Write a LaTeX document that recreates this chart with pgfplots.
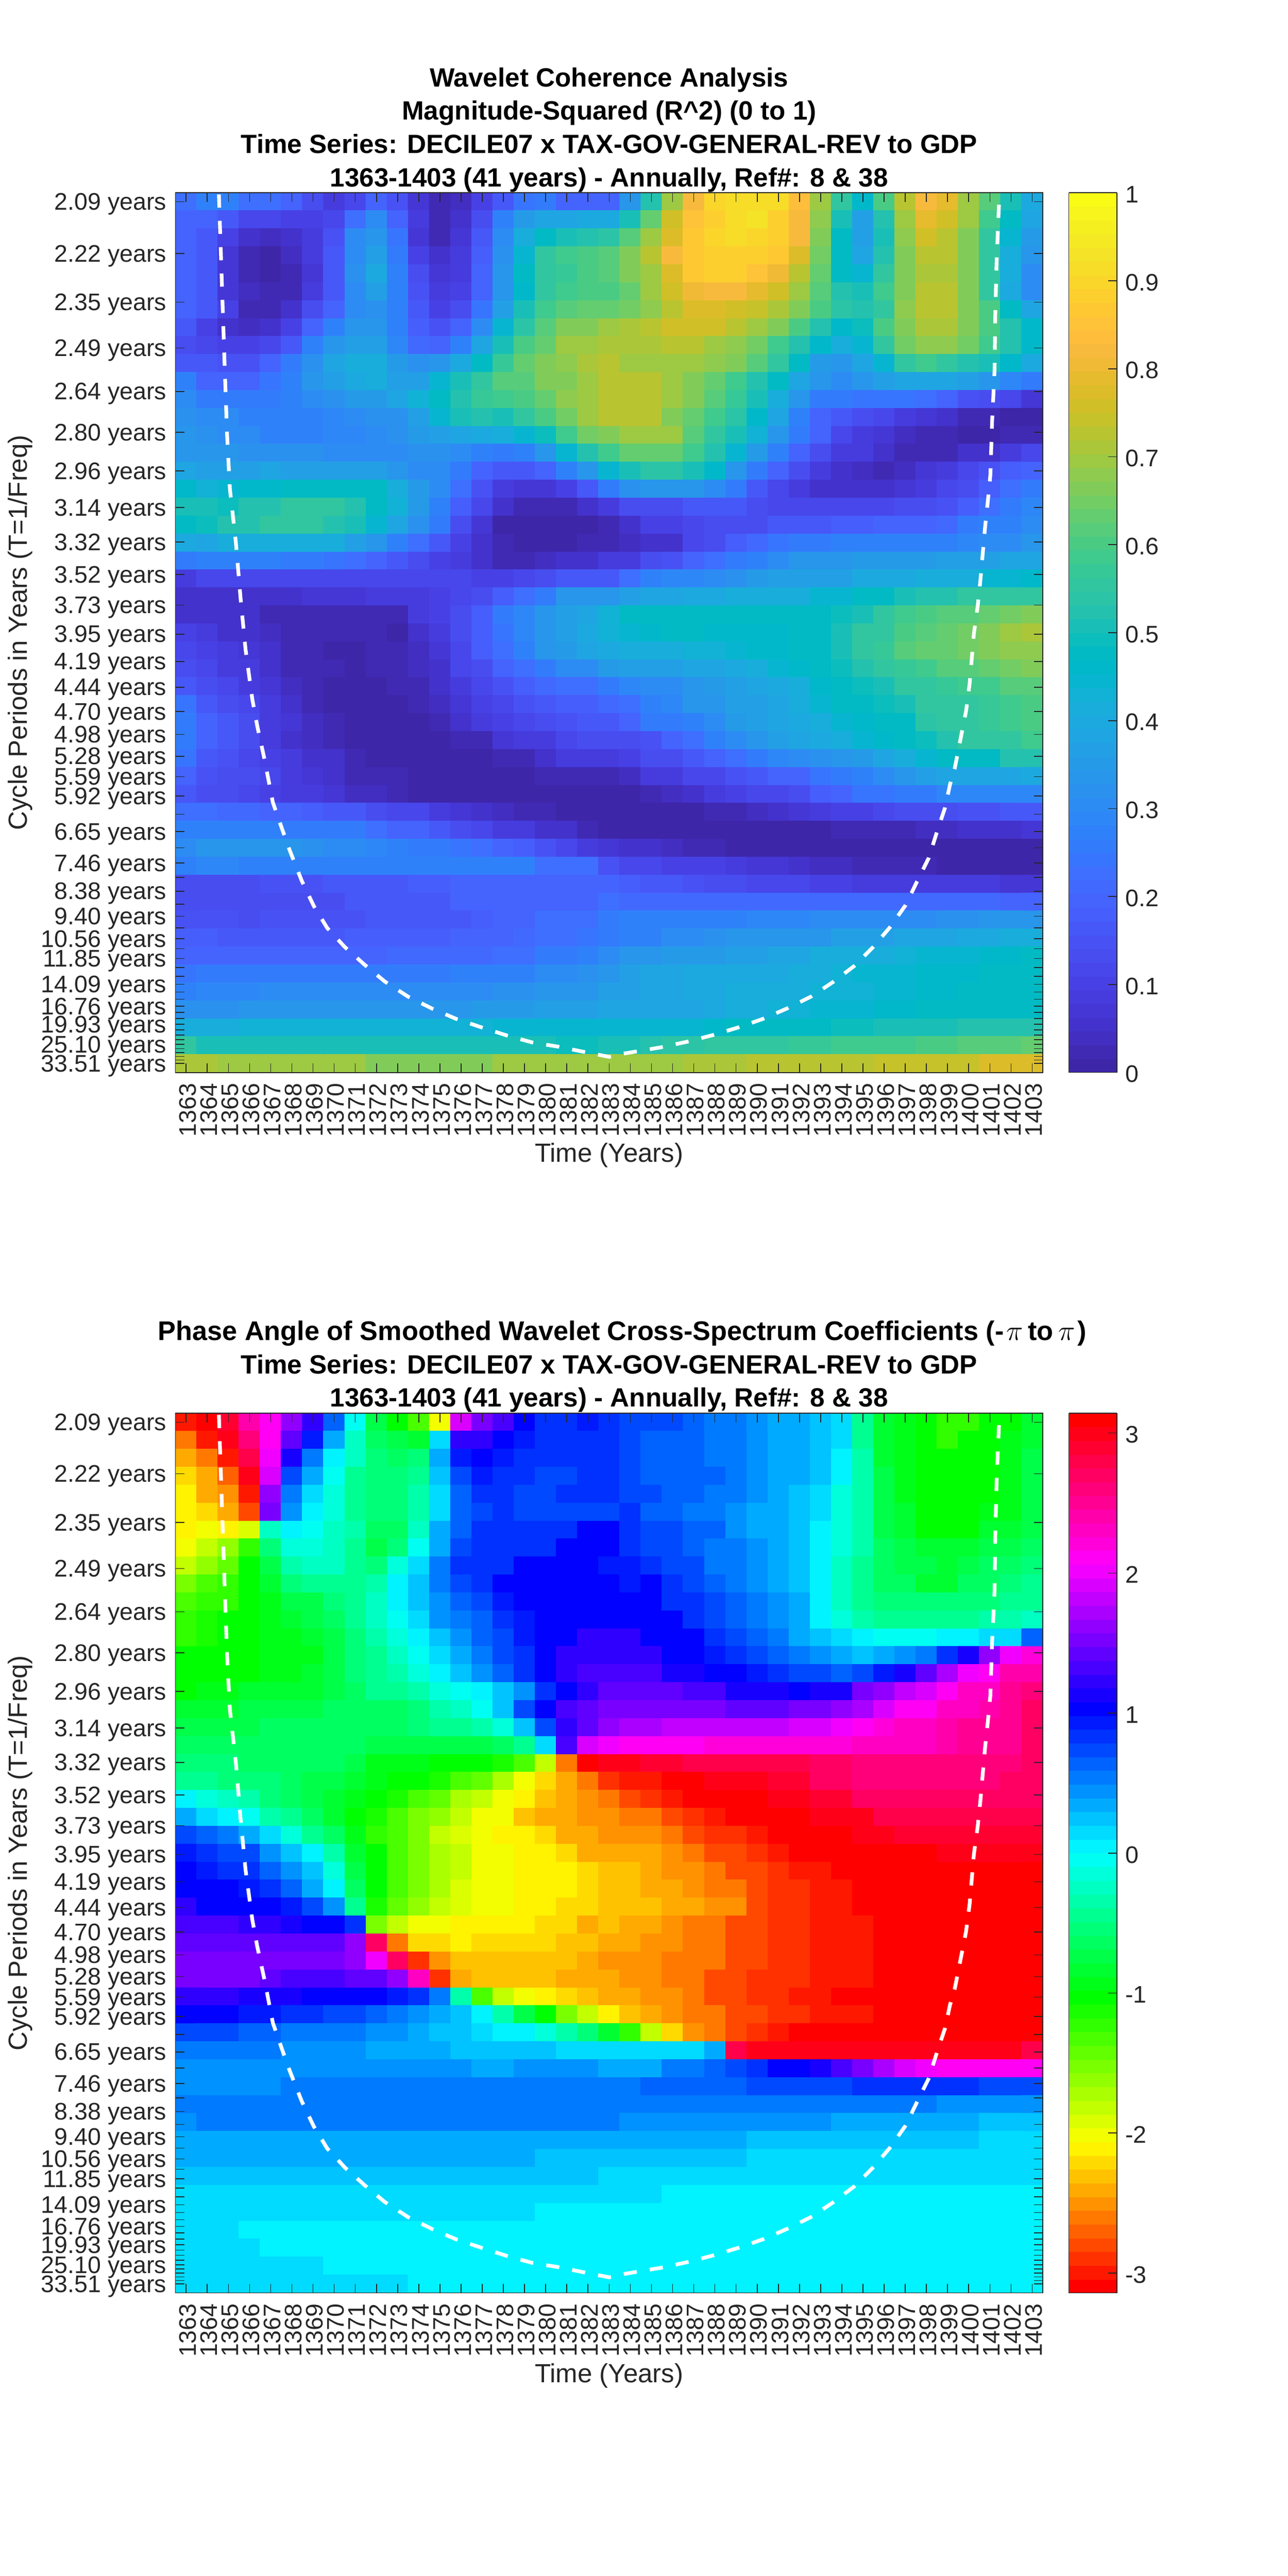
\documentclass[border=0pt]{standalone}
\usepackage{pgfplots}
\pgfplotsset{compat=1.18}
\usepackage{fontspec}
\setmainfont{Liberation Sans}
\definecolor{axc}{gray}{0.15}
\pgfplotsset{
 colormap={par64}{rgb=(0.2422,0.1504,0.6603) rgb=(0.2504,0.1650,0.7076) rgb=(0.2578,0.1818,0.7511) rgb=(0.2647,0.1978,0.7952) rgb=(0.2706,0.2147,0.8364) rgb=(0.2751,0.2342,0.8710) rgb=(0.2783,0.2559,0.8991) rgb=(0.2803,0.2782,0.9221) rgb=(0.2813,0.3006,0.9414) rgb=(0.2810,0.3228,0.9579) rgb=(0.2795,0.3447,0.9717) rgb=(0.2760,0.3667,0.9829) rgb=(0.2699,0.3892,0.9906) rgb=(0.2602,0.4123,0.9952) rgb=(0.2440,0.4358,0.9988) rgb=(0.2206,0.4603,0.9973) rgb=(0.1963,0.4847,0.9892) rgb=(0.1834,0.5074,0.9798) rgb=(0.1786,0.5289,0.9682) rgb=(0.1764,0.5499,0.9520) rgb=(0.1687,0.5703,0.9359) rgb=(0.1540,0.5902,0.9218) rgb=(0.1460,0.6091,0.9079) rgb=(0.1380,0.6276,0.8973) rgb=(0.1248,0.6459,0.8883) rgb=(0.1113,0.6635,0.8763) rgb=(0.0952,0.6798,0.8598) rgb=(0.0689,0.6948,0.8394) rgb=(0.0297,0.7082,0.8163) rgb=(0.0036,0.7203,0.7917) rgb=(0.0067,0.7312,0.7660) rgb=(0.0433,0.7411,0.7394) rgb=(0.0964,0.7500,0.7120) rgb=(0.1408,0.7584,0.6842) rgb=(0.1717,0.7670,0.6554) rgb=(0.1938,0.7758,0.6251) rgb=(0.2161,0.7843,0.5923) rgb=(0.2470,0.7918,0.5567) rgb=(0.2906,0.7973,0.5188) rgb=(0.3406,0.8008,0.4789) rgb=(0.3909,0.8029,0.4354) rgb=(0.4456,0.8024,0.3909) rgb=(0.5044,0.7993,0.3480) rgb=(0.5616,0.7942,0.3045) rgb=(0.6174,0.7876,0.2612) rgb=(0.6720,0.7793,0.2227) rgb=(0.7242,0.7698,0.1910) rgb=(0.7738,0.7598,0.1646) rgb=(0.8203,0.7498,0.1535) rgb=(0.8634,0.7406,0.1596) rgb=(0.9035,0.7330,0.1774) rgb=(0.9393,0.7288,0.2100) rgb=(0.9728,0.7298,0.2394) rgb=(0.9956,0.7434,0.2371) rgb=(0.9970,0.7659,0.2199) rgb=(0.9952,0.7861,0.1967) rgb=(0.9892,0.8136,0.1816) rgb=(0.9786,0.8386,0.1694) rgb=(0.9676,0.8639,0.1550) rgb=(0.9610,0.8890,0.1537) rgb=(0.9597,0.9135,0.1423) rgb=(0.9628,0.9373,0.1265) rgb=(0.9691,0.9606,0.1064) rgb=(0.9769,0.9839,0.0805)},
 colormap={hsv7}{rgb=(1,0,0) rgb=(1,1,0) rgb=(0,1,0) rgb=(0,1,1) rgb=(0,0,1) rgb=(1,0,1) rgb=(1,0,0)},
 colormap={hsv64}{samples of colormap=(64 of hsv7)},
}
\makeatletter
\newcount\rowi \newcount\coli
\def\startT{\global\rowi=0 \gdef\T{x y c\\}}
\def\R#1{\global\coli=0 \@for\v:=#1\do{\xdef\T{\unexpanded\expandafter{\T}\the\coli\space\the\rowi\space\v\noexpand\\}\global\advance\coli 1 }\ifnum\coli=41 \else\errmessage{bad row \the\rowi: \the\coli}\fi\global\advance\rowi 1 }
\makeatother
\startT
\R{22,27,28,22,22,20,14,9,12,20,15,7,2,4,10,17,24,26,20,20,20,33,52,70,82,90,92,92,91,83,70,55,46,60,73,82,79,70,62,50,40}
\R{20,19,16,12,11,10,10,12,22,30,20,8,3,5,14,27,35,38,39,40,40,50,64,75,85,88,92,93,89,82,68,50,37,53,69,79,75,70,58,47,39}
\R{19,16,10,5,4,5,8,15,30,34,24,7,3,7,17,30,41,48,51,53,54,62,70,78,86,90,91,90,88,82,66,47,36,50,68,75,73,67,56,44,35}
\R{19,16,7,2,1,4,8,16,31,37,26,10,6,8,18,32,45,55,58,60,62,66,72,82,87,89,89,88,86,77,65,47,38,52,67,72,72,66,56,42,33}
\R{20,16,7,3,1,2,7,17,32,40,28,13,7,9,19,33,47,56,57,60,61,66,70,77,87,88,88,85,80,72,63,47,44,55,67,71,71,66,55,41,31}
\R{20,16,7,4,2,3,8,17,31,37,28,15,8,10,20,33,46,56,58,60,60,64,70,75,80,82,82,79,75,70,62,52,51,58,67,72,72,66,56,40,30}
\R{20,16,10,2,2,5,14,20,30,32,27,17,10,13,24,37,50,58,62,64,63,65,68,72,77,77,76,74,71,67,60,54,52,56,68,72,72,67,60,48,38}
\R{16,10,6,4,5,10,20,27,33,33,27,18,15,19,30,45,54,62,66,67,70,71,72,75,75,75,73,70,66,60,53,46,49,60,67,71,71,66,60,52,46}
\R{13,11,10,10,11,16,27,34,37,37,29,21,20,27,39,50,60,64,69,70,71,71,71,73,72,70,68,65,58,52,46,41,45,55,65,68,68,65,59,52,46}
\R{17,17,15,15,19,26,32,38,41,42,35,32,33,40,47,57,63,66,68,71,73,70,70,70,70,68,66,62,55,47,35,33,38,45,55,58,56,53,50,46,40}
\R{27,19,20,20,24,27,33,37,40,42,37,37,44,51,55,61,62,66,67,70,72,72,72,70,67,63,59,53,47,38,33,30,33,37,39,39,39,37,34,29,25}
\R{31,26,26,26,26,28,31,32,35,35,39,43,48,53,57,59,60,64,68,70,72,72,72,70,66,61,57,50,41,34,25,25,24,24,24,22,19,15,13,11,7}
\R{32,30,30,27,27,27,27,29,31,32,32,37,44,50,52,50,55,60,65,70,72,72,72,67,64,59,54,46,38,28,20,17,14,12,9,7,5,2,2,1,0}
\R{33,32,31,30,27,27,27,29,29,30,32,35,37,38,40,42,45,49,58,65,67,70,70,69,62,56,50,43,33,25,19,12,8,7,4,3,2,0,0,2,3}
\R{34,34,33,32,32,32,32,31,31,31,31,32,32,30,28,26,27,33,45,52,58,64,64,64,58,53,45,35,27,20,13,9,8,6,3,3,3,5,6,9,11}
\R{38,37,36,37,38,37,37,37,37,36,34,31,30,25,19,17,17,20,27,34,45,50,54,54,50,46,33,26,20,13,8,5,4,3,4,7,9,12,15,18,20}
\R{46,43,45,46,46,47,47,48,48,47,42,35,31,22,15,9,7,7,10,17,25,32,33,33,33,30,25,17,12,8,5,5,5,5,7,9,11,14,18,22,25}
\R{50,50,49,53,53,55,55,55,52,47,43,35,28,18,12,5,2,2,3,6,9,13,13,14,16,16,16,14,12,12,11,11,11,12,13,14,15,18,22,26,29}
\R{48,49,52,52,55,56,56,52,50,44,38,32,26,13,7,1,1,0,0,1,2,5,10,10,12,13,13,14,16,17,17,18,18,19,20,20,21,25,27,27,30}
\R{40,39,41,42,42,42,42,41,37,33,27,22,17,10,5,2,1,0,1,2,2,4,6,5,12,14,18,21,24,25,26,27,27,27,27,28,28,29,31,31,33}
\R{26,27,27,27,27,26,26,24,22,20,17,13,10,8,5,3,3,4,5,5,9,9,13,15,20,22,25,28,31,33,34,34,35,35,35,35,36,37,37,39,39}
\R{9,11,11,11,11,11,11,11,11,11,11,11,11,11,10,10,11,14,16,17,17,23,27,29,29,30,32,35,36,37,37,37,40,40,40,41,41,42,44,44,46}
\R{5,5,5,5,6,6,7,7,7,8,8,9,10,12,14,18,22,25,33,33,33,37,38,39,40,40,41,41,41,42,45,45,47,48,50,53,53,55,55,56,55}
\R{6,5,5,5,3,3,2,2,2,3,3,8,10,13,18,25,29,33,36,39,43,47,48,48,47,47,47,47,47,47,48,49,50,55,58,60,61,62,63,65,67}
\R{10,8,6,5,4,3,3,3,3,2,1,5,8,13,18,24,29,34,37,40,43,45,46,47,47,46,46,46,46,47,48,50,55,56,60,62,63,65,67,69,71}
\R{12,10,8,7,5,3,3,1,1,2,2,4,7,12,18,23,28,33,35,38,40,41,42,42,43,43,44,46,46,47,48,50,56,57,62,63,64,65,66,68,68}
\R{14,12,9,8,5,3,2,2,1,2,3,4,6,11,14,19,22,26,30,31,35,36,37,37,38,39,40,42,44,46,48,49,52,55,57,58,61,61,63,65,67}
\R{17,13,11,9,7,4,3,1,1,1,2,3,6,9,12,15,18,21,22,23,26,29,30,31,33,35,37,39,40,41,46,48,49,51,55,56,57,58,59,61,61}
\R{24,16,14,11,8,5,3,1,1,1,1,2,4,7,10,12,15,17,18,18,21,22,27,29,33,34,36,37,39,41,44,47,48,49,50,55,56,56,57,59,60}
\R{26,20,16,13,9,7,4,3,1,1,1,1,2,6,8,10,11,14,15,17,16,19,25,26,28,30,35,36,38,40,42,45,46,48,48,54,55,56,57,58,60}
\R{26,20,17,13,9,6,4,2,1,1,1,1,1,2,3,7,8,9,12,13,13,13,15,20,22,27,30,33,36,38,40,42,44,46,48,49,53,55,56,56,58}
\R{24,17,15,12,10,8,6,5,2,0,0,0,0,1,1,2,3,5,9,9,9,10,13,14,17,19,23,26,29,31,32,34,35,38,41,44,47,48,48,52,53}
\R{20,15,14,13,11,9,7,5,2,2,2,1,1,1,1,1,1,2,2,2,2,4,9,9,11,12,15,16,19,20,24,26,27,31,34,36,38,38,39,39,40}
\R{16,14,13,12,10,9,8,7,4,4,3,1,1,1,0,0,0,0,0,0,1,1,3,4,6,9,10,11,12,14,18,19,24,24,26,26,29,29,29,29,29}
\R{22,22,21,21,20,20,18,17,16,14,12,11,9,7,6,4,3,2,1,0,0,0,0,0,0,2,3,4,5,7,8,10,10,11,13,14,14,15,15,16,16}
\R{28,28,27,27,27,25,26,25,25,22,20,19,16,14,11,9,8,6,5,3,1,1,0,0,0,0,0,0,0,0,0,2,2,3,3,4,4,5,5,6,7}
\R{31,33,33,33,33,33,32,31,30,29,28,26,25,24,22,20,18,15,11,8,7,6,5,4,2,2,0,0,0,0,0,0,0,0,0,0,0,0,0,0,0}
\R{28,29,29,28,28,28,28,28,28,28,27,27,27,27,27,27,27,22,22,22,15,12,11,10,10,10,8,7,7,5,4,4,3,2,2,2,1,1,1,1,1}
\R{13,13,13,13,15,15,15,17,17,17,17,18,18,19,19,19,20,20,20,20,19,18,17,16,15,14,13,12,12,11,10,10,9,9,9,8,8,8,8,7,7}
\R{13,13,13,14,14,14,14,14,16,16,16,16,16,19,19,19,19,19,20,20,22,21,21,21,21,21,21,21,21,21,21,21,21,21,21,21,21,21,21,20,20}
\R{15,15,15,14,15,15,15,15,15,16,16,17,17,17,18,19,20,23,23,23,25,28,28,28,28,28,28,29,29,29,30,30,30,31,31,31,32,32,33,33,33}
\R{18,18,17,17,17,17,17,17,18,18,18,18,18,19,20,20,21,23,23,24,26,27,27,30,30,32,33,33,34,34,34,36,36,37,38,38,39,40,40,41,41}
\R{20,20,19,19,19,19,19,20,20,20,21,21,21,21,21,23,23,25,26,28,31,33,34,35,35,35,37,37,38,39,41,41,41,42,43,44,45,45,46,46,47}
\R{24,25,25,25,25,25,25,25,25,26,26,26,26,27,27,28,28,30,31,32,33,36,38,39,40,40,40,40,40,41,42,43,44,44,45,46,46,46,47,47,47}
\R{28,29,29,29,30,30,30,30,30,30,30,30,31,31,31,32,32,33,33,34,36,37,38,39,40,40,41,42,42,42,43,43,43,44,45,46,46,47,47,47,47}
\R{32,32,32,33,33,33,33,33,33,33,34,34,34,34,35,35,35,36,36,37,38,38,38,39,39,40,41,42,43,43,44,44,45,46,46,47,47,47,47,48,48}
\R{42,42,42,43,43,43,43,43,43,43,43,43,43,43,43,44,44,44,44,44,44,44,45,45,45,46,47,47,48,48,48,49,49,50,50,51,51,52,52,52,53}
\R{55,51,51,51,50,50,50,50,50,50,50,50,50,50,50,50,50,50,49,49,50,50,52,54,54,55,55,56,56,57,57,58,58,59,59,60,60,61,61,61,63}
\R{71,71,70,69,69,69,69,69,69,67,67,67,67,67,67,69,69,69,69,69,69,69,70,70,71,71,71,72,72,72,72,72,73,74,74,74,74,74,77,77,77}
\let\TA\T
\startT
\R{-295,-314,290,245,209,165,125,60,-9,-70,-105,-130,-205,190,150,130,105,87,87,93,87,75,70,70,60,55,50,45,37,35,22,12,-40,-85,-95,-105,-120,-120,-105,-100,-85}
\R{-265,-295,300,260,209,145,90,30,-20,-60,-72,-80,18,125,125,105,97,87,87,87,85,75,68,68,60,53,50,45,37,35,22,12,-40,-85,-95,-105,-120,-105,-105,-95,-85}
\R{-245,-265,-295,280,200,115,50,0,-25,-52,-60,-52,30,98,105,95,87,85,85,85,85,75,68,68,60,53,53,45,37,35,22,0,-30,-80,-95,-105,-105,-105,-100,-95,-70}
\R{-225,-245,-270,300,190,75,35,-5,-40,-52,-52,-45,20,75,97,87,87,73,73,80,80,72,68,68,60,60,50,45,37,37,22,0,-30,-70,-95,-105,-105,-105,-100,-95,-70}
\R{-215,-240,-255,-295,165,52,12,-12,-45,-52,-52,-38,17,68,80,80,73,73,80,80,80,72,72,62,60,52,50,40,37,27,12,-10,-30,-70,-95,-105,-105,-105,-100,-95,-70}
\R{-213,-225,-245,-275,155,40,0,-15,-45,-52,-52,-35,17,68,70,80,72,72,78,78,78,80,65,62,55,50,45,38,30,25,10,-10,-30,-70,-85,-105,-105,-105,-97,-95,-72}
\R{-209,-205,-212,-195,-20,0,-5,-25,-35,-62,-60,-20,30,60,85,85,85,85,85,100,100,85,78,78,65,60,45,38,30,25,5,-10,-30,-70,-80,-105,-105,-105,-85,-85,-70}
\R{-197,-185,-165,-120,-50,-10,-12,-25,-40,-70,-55,-5,35,78,87,87,87,87,100,100,100,85,78,72,62,55,50,42,35,25,5,-10,-35,-62,-75,-85,-85,-85,-72,-70,-60}
\R{-178,-158,-138,-105,-70,-30,-25,-25,-42,-52,-15,12,52,85,87,87,100,100,105,105,97,97,85,72,72,55,50,42,35,25,5,-20,-40,-60,-75,-75,-80,-70,-62,-60,-50}
\R{-157,-137,-122,-108,-80,-50,-40,-40,-45,-30,0,20,55,75,83,100,105,105,105,105,105,97,100,87,75,65,55,45,38,25,5,-20,-40,-60,-65,-85,-85,-65,-60,-55,-48}
\R{-133,-125,-120,-108,-90,-72,-72,-55,-48,-25,0,22,40,60,78,95,105,105,105,105,105,105,100,87,85,72,65,55,45,30,5,-22,-42,-52,-55,-55,-55,-55,-52,-45,-40}
\R{-127,-117,-108,-105,-93,-82,-75,-63,-45,-25,-5,12,42,50,67,80,95,105,105,105,105,105,105,100,87,75,65,55,45,35,8,-12,-35,-42,-42,-42,-42,-42,-38,-35,-28}
\R{-120,-110,-105,-105,-95,-90,-85,-75,-50,-35,-17,0,28,40,60,72,90,100,105,120,120,120,105,105,100,85,72,60,50,35,28,12,0,-8,-8,-3,0,0,10,17,62}
\R{-105,-105,-105,-102,-98,-95,-90,-75,-55,-40,-25,-8,10,30,50,72,85,100,120,120,120,120,120,105,105,95,80,70,62,50,40,35,25,35,45,55,85,115,160,200,225}
\R{-103,-103,-103,-100,-95,-90,-88,-75,-55,-45,-30,-15,0,22,40,62,82,100,120,135,130,130,130,115,115,105,105,95,82,75,75,65,70,95,115,140,175,205,215,240,245}
\R{-100,-98,-98,-88,-88,-80,-80,-78,-60,-45,-45,-30,-18,-5,5,22,45,82,105,127,145,145,145,145,128,128,115,115,112,105,115,115,150,160,180,195,210,230,235,250,260}
\R{-85,-85,-85,-75,-75,-70,-70,-65,-65,-62,-62,-52,-35,-25,-5,20,72,105,130,145,155,155,155,155,150,150,145,145,145,150,155,160,175,190,210,215,230,235,245,255,265}
\R{-72,-72,-72,-72,-60,-60,-60,-60,-60,-60,-60,-55,-45,-42,-35,-18,22,75,120,140,160,170,170,180,180,180,185,185,185,190,195,205,210,220,230,235,240,250,255,255,270}
\R{-60,-60,-60,-60,-62,-62,-62,-62,-62,-72,-72,-72,-72,-72,-72,-65,-45,10,135,190,205,210,210,210,210,225,225,225,225,225,225,225,235,235,235,235,245,250,255,255,270}
\R{-50,-50,-55,-60,-60,-60,-65,-65,-75,-95,-95,-98,-100,-105,-105,-115,-135,-185,-260,-314,300,295,290,290,282,282,275,275,275,275,265,265,262,262,262,262,262,258,258,258,272}
\R{-42,-42,-52,-55,-55,-65,-70,-72,-85,-95,-105,-105,-115,-130,-140,-167,-198,-225,-240,-265,-285,-295,-300,-314,310,300,300,295,285,285,272,272,262,262,262,262,262,262,262,272,272}
\R{0,-10,-25,-35,-55,-65,-72,-85,-95,-105,-115,-135,-145,-167,-185,-197,-215,-235,-245,-255,-260,-275,-285,-295,-305,-305,-314,310,300,295,285,285,272,272,272,272,272,272,272,272,272}
\R{30,18,0,-8,-30,-42,-65,-80,-100,-115,-133,-150,-165,-185,-197,-205,-230,-240,-240,-250,-255,-260,-260,-275,-285,-295,-305,-314,-314,305,300,295,295,282,282,282,282,282,282,282,282}
\R{75,60,50,30,10,-10,-40,-60,-90,-120,-135,-155,-180,-187,-197,-207,-215,-225,-240,-240,-250,-255,-255,-265,-275,-285,-285,-295,-305,-314,305,305,300,295,290,290,290,290,290,290,290}
\R{95,85,75,72,42,20,0,-35,-85,-105,-130,-155,-175,-185,-197,-205,-215,-215,-225,-240,-240,-245,-245,-255,-265,-275,-275,-285,-295,-305,-305,-314,-314,305,305,305,300,300,300,300,300}
\R{100,92,87,85,65,40,20,-12,-70,-105,-132,-155,-175,-185,-197,-197,-209,-215,-215,-225,-235,-235,-240,-255,-255,-265,-275,-275,-285,-295,-295,-305,-314,-314,-314,-314,310,310,310,310,310}
\R{105,100,100,95,80,60,38,0,-65,-105,-135,-155,-170,-187,-197,-197,-209,-215,-215,-225,-235,-235,-240,-245,-255,-260,-260,-275,-285,-285,-295,-295,-305,-314,-314,-314,-314,-314,-314,-314,-314}
\R{120,105,105,100,100,90,75,40,-45,-115,-145,-165,-180,-195,-198,-205,-207,-215,-225,-225,-235,-235,-235,-245,-245,-255,-255,-275,-285,-285,-295,-295,-305,-305,-305,-305,-314,-314,-314,-314,-314}
\R{135,135,135,120,120,115,105,105,85,-155,-185,-197,-197,-207,-207,-215,-215,-225,-225,-240,-235,-245,-245,-255,-265,-265,-275,-275,-285,-285,-295,-295,-295,-305,-305,-305,-305,-314,-314,-314,-314}
\R{138,138,138,138,138,138,138,145,165,265,-260,-225,-225,-210,-225,-225,-225,-225,-235,-235,-245,-245,-255,-255,-265,-265,-275,-275,-285,-285,-295,-295,-295,-305,-305,-305,-314,-314,-314,-314,-314}
\R{148,148,148,148,148,148,148,155,165,200,265,-285,-250,-235,-235,-235,-235,-235,-235,-245,-250,-255,-255,-265,-265,-265,-275,-275,-285,-285,-295,-295,-295,-305,-305,-305,-305,-314,-314,-314,-314}
\R{148,148,148,148,138,135,135,135,145,145,165,230,-285,-245,-235,-235,-235,-235,-245,-245,-245,-255,-255,-265,-265,-275,-275,-285,-285,-285,-295,-295,-295,-305,-305,-314,-314,-314,-314,-314,-314}
\R{125,125,125,115,115,112,105,105,100,100,90,85,50,-35,-135,-185,-205,-215,-225,-235,-245,-245,-255,-255,-265,-275,-275,-285,-285,-295,-295,-305,-305,-305,-305,-314,-314,-314,-314,-314,305}
\R{100,100,100,93,92,85,85,72,72,60,52,40,30,20,0,-30,-72,-105,-155,-185,-215,-230,-245,-255,-265,-265,-275,-275,-285,-285,-295,-295,-295,-305,-314,-314,-314,-314,-314,305,305}
\R{72,72,72,62,60,55,52,50,50,42,40,30,22,20,10,0,0,-10,-30,-55,-80,-120,-185,-225,-250,-260,-275,-285,-295,-305,-305,-305,-305,-314,-314,-314,-314,310,305,305,305}
\R{50,50,50,50,50,42,42,42,42,30,30,30,30,20,20,20,20,20,12,12,12,12,12,12,12,35,275,300,300,300,300,300,295,295,295,295,295,295,295,295,280}
\R{42,42,42,42,42,40,40,40,40,40,40,40,40,40,32,32,40,40,40,40,38,38,38,50,50,60,72,85,100,105,115,130,155,175,190,200,209,209,209,209,209}
\R{40,40,40,40,40,52,52,52,52,52,52,52,52,52,52,52,52,52,52,52,52,52,62,62,62,62,62,72,72,72,72,72,83,83,83,83,83,83,70,70,70}
\R{50,50,50,50,50,50,50,50,50,50,50,50,50,50,50,50,50,50,50,50,50,50,50,50,50,50,50,50,50,50,50,50,50,50,50,50,42,42,42,42,42}
\R{40,50,50,50,50,50,50,50,50,50,50,50,50,50,50,50,50,50,50,50,52,42,42,42,42,42,42,42,42,42,42,33,33,33,33,33,33,33,28,28,28}
\R{38,38,38,38,38,38,38,38,38,38,38,38,38,38,38,38,38,38,33,33,30,30,30,30,30,30,30,22,22,22,22,22,22,22,22,22,22,22,12,12,12}
\R{30,30,30,30,30,30,30,30,30,30,30,30,30,30,30,30,30,25,25,25,22,22,22,22,22,22,22,10,10,10,10,10,10,10,10,10,10,10,10,10,10}
\R{20,20,20,20,20,20,20,20,20,20,20,20,20,20,20,20,20,20,20,20,12,10,10,10,10,10,10,10,10,10,10,10,10,10,10,10,10,10,10,10,10}
\R{17,17,17,17,17,17,17,17,17,17,17,10,10,10,10,10,10,10,10,10,10,10,10,0,0,0,0,0,0,0,0,0,0,0,0,0,0,0,0,0,0}
\R{17,17,17,17,17,10,10,10,10,10,10,10,10,10,10,10,10,0,0,0,0,0,0,0,0,0,0,0,0,0,0,0,0,0,0,0,0,0,0,0,0}
\R{17,17,17,8,8,8,8,8,8,8,8,8,8,8,8,0,0,0,0,0,0,0,0,0,0,0,0,0,0,0,0,0,0,0,0,0,0,0,0,0,0}
\R{17,17,17,17,8,8,8,8,8,8,8,8,8,8,8,0,0,0,0,0,0,0,0,0,0,0,0,0,0,0,0,0,0,0,0,0,0,0,0,0,0}
\R{17,17,17,17,17,17,17,8,8,8,8,8,8,8,8,8,8,8,8,8,3,0,0,0,0,0,0,0,0,0,0,0,0,0,0,0,0,0,0,0,0}
\R{17,17,17,17,17,17,17,17,17,17,17,8,8,8,8,8,8,8,8,8,8,8,8,8,8,8,8,8,8,8,8,8,8,8,8,8,8,8,8,8,8}
\let\TB\T
\def\plotmat#1{\addplot[matrix plot*,mesh/cols=41,point meta=explicit] table[row sep=crcr,x expr=\thisrow{x}+1363,y=y,meta expr=\thisrow{c}/100]{#1};}
\def\coi{\addplot[white,line width=2.25bp,dash pattern=on 8bp off 8bp] coordinates {(1364.55,-0.41)(1364.82,9.07)(1364.94,13.06)(1365.07,16)(1365.35,18.94)(1365.58,22.15)(1365.81,24.93)(1366.13,27.71)(1366.36,29.18)(1366.71,31.08)(1367.10,33.45)(1367.53,34.91)(1367.90,36.13)(1368.47,37.83)(1369.03,39.21)(1369.67,40.45)(1370.51,41.52)(1371.45,42.51)(1372.39,43.43)(1373.50,44.28)(1374.63,44.94)(1375.74,45.50)(1376.95,45.98)(1378.17,46.44)(1379.38,46.83)(1380.59,47.06)(1381.80,47.35)(1383,47.63)(1383.67,47.45)(1385.44,47.10)(1386.71,46.78)(1387.92,46.41)(1389.13,45.98)(1390.30,45.50)(1391.47,44.90)(1392.56,44.26)(1393.62,43.43)(1394.59,42.56)(1395.47,41.52)(1396.28,40.40)(1397.01,39.18)(1397.55,37.87)(1398.11,36.54)(1398.47,35.19)(1398.88,33.74)(1399.11,32.46)(1399.33,31.59)(1399.87,28.37)(1400.04,26.83)(1400.24,24.06)(1400.42,22.52)(1400.55,21.05)(1400.77,18.11)(1400.90,16.67)(1401.02,15.2)(1401.10,12.26)(1401.16,10.81)(1401.22,9.3)(1401.25,6.39)(1401.31,3.45)(1401.41,0.58)(1401.45,-0.41)};}
\pgfplotsset{
 wave/.style={
  scale only axis, width=526.25bp, height=533.75bp,
  xmin=1362.5, xmax=1403.5, ymin=-0.5, ymax=48.5, y dir=reverse,
  axis on top, axis line style={color=axc,line width=0.5bp},
  tick style={color=axc,line width=0.5bp}, tick align=inside, major tick length=5.5bp,
  xtick={1363,1364,...,1403},
  /pgf/number format/1000 sep={}, /pgf/number format/assume math mode=true,
  x tick label style={rotate=90,anchor=east,font=\fontsize{14.6}{16}\selectfont,text=axc,yshift=-1bp,xshift=-3bp},
  y tick label style={font=\fontsize{14.6}{16}\selectfont,text=axc,xshift=-2bp,yshift=-1.5bp},
  ytick={0,2.874,5.586,8.146,10.562,12.844,14.996,17.028,18.946,20.756,22.465,24.078,25.6,27.037,28.393,29.673,30.881,32.022,33.098,34.114,35.073,35.978,36.833,37.639,38.4,39.119,39.797,40.437,41.041,41.611,42.149,42.657,43.137,43.589,44.016,44.420,44.8,45.159,45.498,45.818,46.120,46.406,46.675,46.928,47.168,47.395,47.608,47.810,48},
  yticklabels={2.09 years,2.22 years,2.35 years,2.49 years,2.64 years,2.80 years,2.96 years,3.14 years,3.32 years,3.52 years,3.73 years,3.95 years,4.19 years,4.44 years,4.70 years,4.98 years,5.28 years,5.59 years,5.92 years,,6.65 years,,7.46 years,,8.38 years,,9.40 years,,10.56 years,,11.85 years,,,14.09 years,,,16.76 years,,,19.93 years,,,,25.10 years,,,,,33.51 years},
  xlabel={Time (Years)}, ylabel={Cycle Periods in Years (T=1/Freq)},
  every axis x label/.style={at={(axis description cs:0.5,0)},anchor=center,yshift=-50.25bp,font=\fontsize{16}{18}\selectfont,text=axc},
  every axis y label/.style={at={(axis description cs:0,0.5)},anchor=center,xshift=-94.25bp,rotate=90,font=\fontsize{16}{18}\selectfont,text=axc},
  title style={at={(0.5,1)},anchor=south,align=center,yshift=-9bp,font=\bfseries\fontsize{16.08}{20.25}\selectfont,text=black},
  colorbar,
  colormap access=piecewise constant,
 },
 cb/.style={at={(parent axis.north east)},anchor=north west,xshift=7.25bp,width=29.25bp,height=533.75bp,scale only axis,
  axis line style={color=axc,line width=0.5bp},tick style={color=axc,line width=0.5bp},
  tick align=inside,major tick length=5.5bp,ytick pos=right,yticklabel pos=right,
  y tick label style={font=\fontsize{14.6}{16}\selectfont,text=axc,xshift=1.5bp,yshift=-1bp},
  /pgf/number format/assume math mode=true},
}
\begin{document}
\begin{tikzpicture}[x=1bp,y=1bp]
\path[use as bounding box] (0,0) rectangle (781.25bp,1563bp);
\begin{axis}[wave,at={(106.5bp,912.25bp)},anchor=south west,colormap name=par64,point meta min=0,point meta max=1,
 title={Wavelet Coherence Analysis\\Magnitude-Squared (R\string^2) (0 to 1)\\Time Series: DECILE07 x TAX-GOV-GENERAL-REV to GDP\\1363-1403 (41 years) - Annually, Ref\#: 8 \& 38},
 colorbar style={cb,ytick={0,0.1,...,1},yticklabels={0,0.1,0.2,0.3,0.4,0.5,0.6,0.7,0.8,0.9,1}}]
\expandafter\plotmat\expandafter{\TA}
\coi
\end{axis}
\begin{axis}[wave,at={(106.5bp,171.75bp)},anchor=south west,colormap name=hsv64,point meta min=-3.1416,point meta max=3.1416,
 title={\hspace*{16bp}{\fontsize{16.4}{20.25}\selectfont Phase Angle of Smoothed Wavelet Cross-Spectrum Coefficients (-\kern1.5bp$\pi$\kern3bp to\kern3bp $\pi$\kern1.5bp)}\\Time Series: DECILE07 x TAX-GOV-GENERAL-REV to GDP\\1363-1403 (41 years) - Annually, Ref\#: 8 \& 38},
 colorbar style={cb,ytick={-3,-2,-1,0,1,2,3},yticklabels={-3,-2,-1,0,1,2,3}}]
\expandafter\plotmat\expandafter{\TB}
\coi
\end{axis}
\end{tikzpicture}
\end{document}
